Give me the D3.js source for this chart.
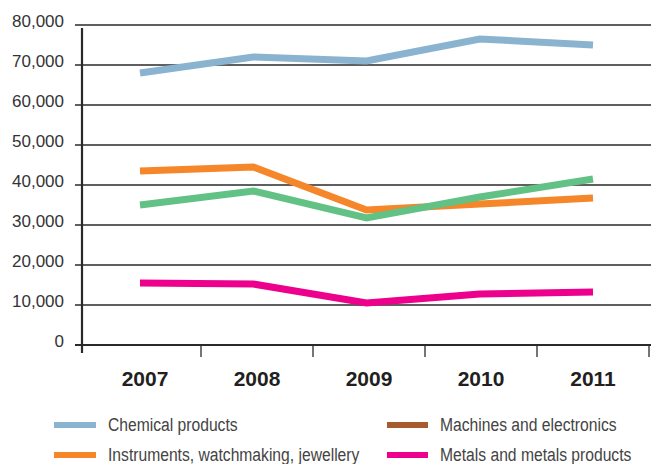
<!DOCTYPE html>
<html><head><meta charset="utf-8">
<script src="https://cdn.jsdelivr.net/npm/d3@7"></script>
<style>body{margin:0;background:#fff}svg{display:block}</style>
</head><body>
<svg id="c" width="661" height="464"></svg>
<script>
const years = ["2007","2008","2009","2010","2011"];
const chemical = [68000, 72000, 71000, 76500, 75000];
const instruments = [43500, 44500, 33750, 35250, 36750];
const machines = [35000, 38500, 31750, 37000, 41500];
const metals = [15500, 15250, 10500, 12750, 13250];
const yTicks = [0,10000,20000,30000,40000,50000,60000,70000,80000];
const seriesNames = ["Chemical products","Instruments, watchmaking, jewellery","Machines and electronics","Metals and metals products"];
const lineColors = ["#8ab3d0","#f5862a","#62c184","#ec008c"];
const legendColors = ["#8ab3d0","#f5862a","#a65a2e","#ec008c"];

const svg = d3.select("#c");
const y = d3.scaleLinear().domain([0,80000]).range([345,25]);
const xBand = d3.scaleBand().domain(years).range([89,649]);
const xPt = d3.scalePoint().domain(years).range([140,593]);
const fmt = d3.format(",");

// gridlines
svg.append("g").selectAll("line").data(yTicks.filter(d=>d>0)).join("line")
  .attr("x1",75).attr("x2",651).attr("y1",d=>y(d)).attr("y2",d=>y(d))
  .attr("stroke","#2a2a2a").attr("stroke-width",1.3);

// y labels
svg.append("g").selectAll("text").data(yTicks).join("text")
  .attr("x",64).attr("y",d=>y(d)+2).attr("text-anchor","end")
  .attr("font-family","Liberation Sans, Arial, sans-serif").attr("font-size",17)
  .attr("fill","#333").text(d=>fmt(d));

// bottom axis
const xAxis = d3.axisBottom(xBand).tickSize(12).tickFormat("");
const gx = svg.append("g").attr("transform","translate(0,345)").call(xAxis);
gx.select(".domain").remove();
gx.selectAll(".tick").attr("transform",d=>`translate(${xBand(d)+xBand.bandwidth()},0)`);
gx.selectAll(".tick line").attr("stroke","#2a2a2a").attr("stroke-width",1.3);
svg.append("line").attr("x1",75).attr("x2",651).attr("y1",y(0)).attr("y2",y(0))
  .attr("stroke","#2a2a2a").attr("stroke-width",2.2);
svg.append("line").attr("x1",82).attr("x2",82).attr("y1",28).attr("y2",353)
  .attr("stroke","#2a2a2a").attr("stroke-width",2.2);

svg.append("g").selectAll("text").data(years).join("text")
  .attr("x",d=>xBand(d)+xBand.bandwidth()/2).attr("y",386).attr("text-anchor","middle")
  .attr("font-family","Liberation Sans, Arial, sans-serif").attr("font-weight","bold")
  .attr("font-size",21).attr("fill","#231f20").text(d=>d);

// lines
const allSeries = [chemical, instruments, machines, metals];
const line = d3.line().x((d,i)=>xPt(years[i])).y(d=>y(d));
svg.append("g").selectAll("path").data(allSeries).join("path")
  .attr("d",line).attr("fill","none")
  .attr("stroke",(d,i)=>lineColors[i]).attr("stroke-width",7)
  .attr("stroke-linejoin","miter");

// legend
const legPos = [[54,425],[54,455],[387,425],[387,455]];
const lg = svg.append("g").selectAll("g").data(seriesNames).join("g")
  .attr("transform",(d,i)=>`translate(${legPos[i][0]},${legPos[i][1]})`);
lg.append("rect").attr("x",0).attr("y",-3).attr("width",(d,i)=>i<2?42:41).attr("height",6)
  .attr("fill",(d,i)=>legendColors[i]);
lg.append("text").attr("transform",(d,i)=>`translate(${i<2?54:53},5.5) scale(0.87,1)`)
  .attr("font-family","Liberation Sans, Arial, sans-serif").attr("font-size",18)
  .attr("fill","#444").text(d=>d);
</script>
</body></html>
